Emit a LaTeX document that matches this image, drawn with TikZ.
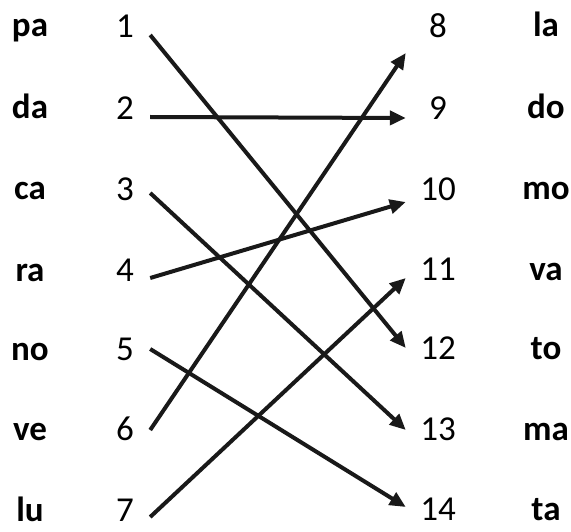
\documentclass[tikz,border=0pt]{standalone}
\usepackage{fontspec}
\setmainfont{Carlito}
\usetikzlibrary{arrows.meta,positioning}

\begin{document}
\begin{tikzpicture}[x=1pt,y=-1pt,>={Triangle[length=16pt,width=14pt]}]
  \tikzset{
    num/.style={font=\fontsize{35}{40}\selectfont,inner sep=0pt},
    lnum/.style={num,minimum width=50pt},
    rnum/.style={num,minimum width=64pt},
    syl/.style={font=\fontsize{35}{40}\selectfont\bfseries,inner sep=0pt,anchor=base},
    link/.style={->,line width=4pt,black!90}
  }
  \useasboundingbox (0,0) rectangle (571,532);
  % left column
  \node[lnum] (l1) at (125,26) {1};
  \node[lnum] (l2) at (125,108) {2};
  \node[lnum] (l3) at (125,189) {3};
  \node[lnum] (l4) at (125,270) {4};
  \node[lnum] (l5) at (125,349) {5};
  \node[lnum] (l6) at (125,429) {6};
  \node[lnum] (l7) at (125,510) {7};
  \node[syl] (w1) at (30,37) {pa};
  \node[syl] (w2) at (30,119) {da};
  \node[syl] (w3) at (30,200) {ca};
  \node[syl] (w4) at (30,281) {ra};
  \node[syl] (w5) at (30,360) {no};
  \node[syl] (w6) at (30,440) {ve};
  \node[syl] (w7) at (30,521) {lu};
  % right column
  \node[rnum] (r8) at (438,26) {8};
  \node[rnum] (r9) at (438,108) {9};
  \node[rnum] (r10) at (438,189) {10};
  \node[rnum] (r11) at (438,269) {11};
  \node[rnum] (r12) at (438,348) {12};
  \node[rnum] (r13) at (438,429) {13};
  \node[rnum] (r14) at (438,509) {14};
  \node[syl] (v8) at (546,37) {la};
  \node[syl] (v9) at (546,119) {do};
  \node[syl] (v10) at (546,200) {mo};
  \node[syl] (v11) at (546,280) {va};
  \node[syl] (v12) at (546,359) {to};
  \node[syl] (v13) at (546,440) {ma};
  \node[syl] (v14) at (546,520) {ta};
  % pairings
  \draw[link] ([yshift=-9pt]l1.east) -- (r12.west);
  \draw[link] ([yshift=-9pt]l2.east) -- ([yshift=-10pt]r9.west);
  \draw[link] ([yshift=-4pt]l3.east) -- ([yshift=-1pt]r13.west);
  \draw[link] ([yshift=-8pt]l4.east) -- ([yshift=-13pt]r10.west);
  \draw[link] (l5.east) -- ([yshift=2pt]r14.west);
  \draw[link] ([yshift=-1pt]l6.east) -- ([yshift=-27pt]r8.west);
  \draw[link] ([yshift=-7pt]l7.east) -- ([yshift=-9pt]r11.west);
\end{tikzpicture}
\end{document}
